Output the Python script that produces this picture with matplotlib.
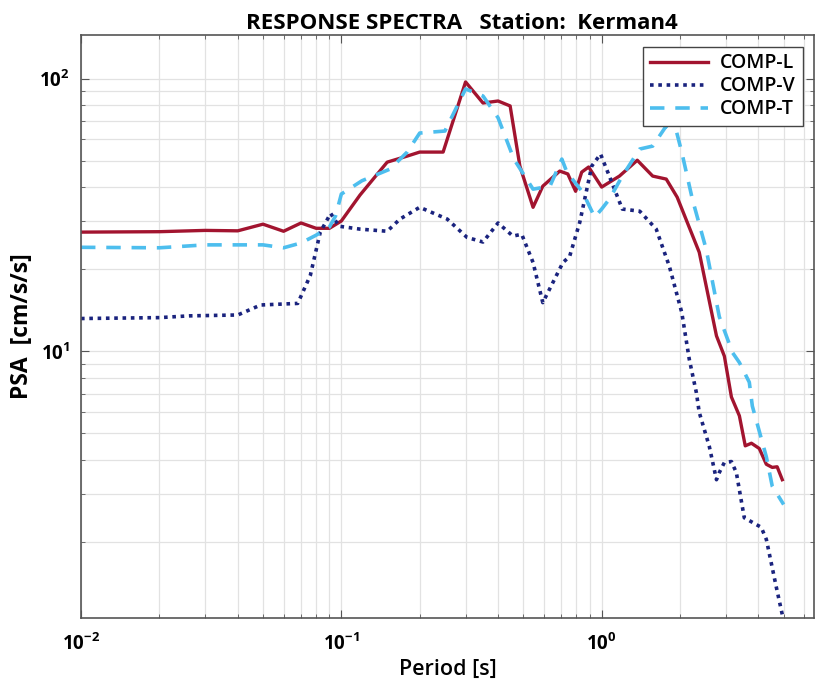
import numpy as np
import matplotlib
matplotlib.use("Agg")
import matplotlib.pyplot as plt
from matplotlib.ticker import LogLocator, NullFormatter

# Response spectra (period [s], PSA [cm/s/s])
period_l = [0.01, 0.02, 0.03, 0.04, 0.05, 0.06, 0.07, 0.08, 0.09, 0.1, 0.118,
            0.15, 0.179, 0.2, 0.246, 0.3, 0.35, 0.4, 0.445, 0.485, 0.545, 0.594,
            0.69, 0.741, 0.794, 0.838, 0.891, 1.0, 1.17, 1.37, 1.57, 1.77, 1.95,
            2.37, 2.76, 2.96, 3.15, 3.38, 3.56, 3.76, 4.03, 4.29, 4.52, 4.72, 4.94]
psa_l = [27.4, 27.5, 27.8, 27.7, 29.3, 27.6, 29.6, 28.3, 28.3, 30.1, 37.5,
         49.5, 52.1, 53.9, 53.9, 97.5, 81.6, 83.0, 79.6, 47.9, 33.8, 40.4,
         45.9, 44.8, 38.7, 45.5, 47.5, 40.1, 44.0, 50.3, 44.0, 42.9, 36.8,
         23.1, 11.4, 9.6, 6.8, 5.8, 4.5, 4.6, 4.4, 3.85, 3.75, 3.77, 3.38]

period_v = [0.01, 0.02, 0.026, 0.04, 0.049, 0.068, 0.076, 0.083, 0.091, 0.098,
            0.118, 0.15, 0.168, 0.2, 0.255, 0.304, 0.35, 0.4, 0.456, 0.493,
            0.545, 0.594, 0.71, 0.753, 0.824, 0.916, 0.99, 1.07, 1.2, 1.4, 1.62,
            1.82, 2.03, 2.17, 2.31, 2.37, 2.59, 2.76, 2.83, 2.96, 3.15, 3.29,
            3.53, 4.1, 4.29, 4.68, 4.94]
psa_v = [13.2, 13.3, 13.5, 13.6, 14.8, 15.0, 19.0, 27.4, 32.1, 28.8,
         28.1, 27.6, 30.6, 33.8, 30.6, 26.2, 25.2, 29.6, 26.5, 26.9,
         21.2, 15.1, 21.2, 22.3, 29.8, 47.9, 53.0, 44.0, 33.3, 32.7, 28.1,
         20.5, 13.9, 9.35, 7.06, 5.97, 4.48, 3.38, 3.59, 3.91, 3.94, 3.59,
         2.45, 2.26, 2.04, 1.37, 1.08]

period_t = [0.01, 0.02, 0.03, 0.04, 0.05, 0.06, 0.07, 0.08, 0.09, 0.095, 0.1,
            0.12, 0.154, 0.179, 0.2, 0.25, 0.3, 0.35, 0.4, 0.46, 0.545, 0.633,
            0.703, 0.735, 0.845, 0.94, 1.0, 1.07, 1.2, 1.4, 1.57, 1.77, 1.94,
            2.03, 2.23, 2.52, 2.83, 3.18, 3.38, 3.69, 3.79, 4.29, 4.52, 5.0]
psa_t = [24.1, 24.0, 24.6, 24.6, 24.6, 24.0, 25.0, 26.7, 28.6, 31.4, 37.8,
         42.3, 46.7, 53.9, 63.3, 64.4, 91.9, 86.6, 72.0, 50.8, 39.4, 40.4,
         50.8, 45.5, 38.4, 31.1, 33.3, 36.2, 44.0, 55.3, 56.7, 67.2, 63.8,
         53.9, 36.2, 23.7, 13.4, 9.9, 9.1, 7.7, 6.3, 4.1, 3.2, 2.74]

FONT = ["Open Sans", "DejaVu Sans"]
plt.rcParams["font.family"] = FONT
plt.rcParams["mathtext.fontset"] = "custom"
plt.rcParams["mathtext.rm"] = "Open Sans"
plt.rcParams["mathtext.bf"] = "Open Sans:bold"

fig = plt.figure(figsize=(8.15, 6.88), dpi=100)
ax = fig.add_axes([81 / 815, 1 - 618 / 688, 734 / 815 - 0.001, (618 - 35) / 688])

ax.loglog(period_l, psa_l, color="#a2142f", lw=2.4, label="COMP-L")
ax.loglog(period_v, psa_v, color="#1a237e", lw=2.6, linestyle=(0, (1, 1.3)),
          label="COMP-V")
ax.loglog(period_t, psa_t, color="#4dbeee", lw=2.6, linestyle=(0, (4, 3)),
          label="COMP-T")

ax.set_xlim(0.01, 6.55)
ax.set_ylim(1.05, 145)

ax.xaxis.set_major_locator(LogLocator(base=10, numticks=10))
ax.xaxis.set_minor_locator(LogLocator(base=10, subs=np.arange(2, 10), numticks=10))
ax.yaxis.set_minor_locator(LogLocator(base=10, subs=np.arange(2, 10), numticks=10))
ax.xaxis.set_minor_formatter(NullFormatter())
ax.yaxis.set_minor_formatter(NullFormatter())

ax.grid(True, which="both", color="#e2e2e2", lw=0.9)
ax.set_axisbelow(True)
ax.tick_params(which="both", direction="in", top=True, right=True,
               color="#555555", labelsize=13.5)
ax.tick_params(which="major", length=6)
ax.tick_params(which="minor", length=3)
ax.tick_params(axis="x", pad=11)
ax.tick_params(axis="y", pad=8)
for lab in ax.get_xticklabels() + ax.get_yticklabels():
    lab.set_fontweight("bold")
for sp in ax.spines.values():
    sp.set_color("#555555")
    sp.set_linewidth(1.2)

ax.set_title("RESPONSE SPECTRA   Station:  Kerman4", fontsize=16,
             fontweight="bold", pad=4, x=0.52)
ax.set_xlabel("Period [s]", fontsize=15.5, fontweight="semibold", labelpad=3)
ax.set_ylabel("PSA  [cm/s/s]", fontsize=16.5, fontweight="bold", labelpad=4)

leg = ax.legend(loc="upper right", fontsize=14, handlelength=3.0,
                borderaxespad=0.6, fancybox=False, framealpha=1,
                edgecolor="#444444", labelspacing=0.15, borderpad=0.35,
                handletextpad=0.6)
leg.get_frame().set_linewidth(1.0)
for t in leg.get_texts():
    t.set_fontweight("semibold")

fig.savefig("out.png", dpi=100)
